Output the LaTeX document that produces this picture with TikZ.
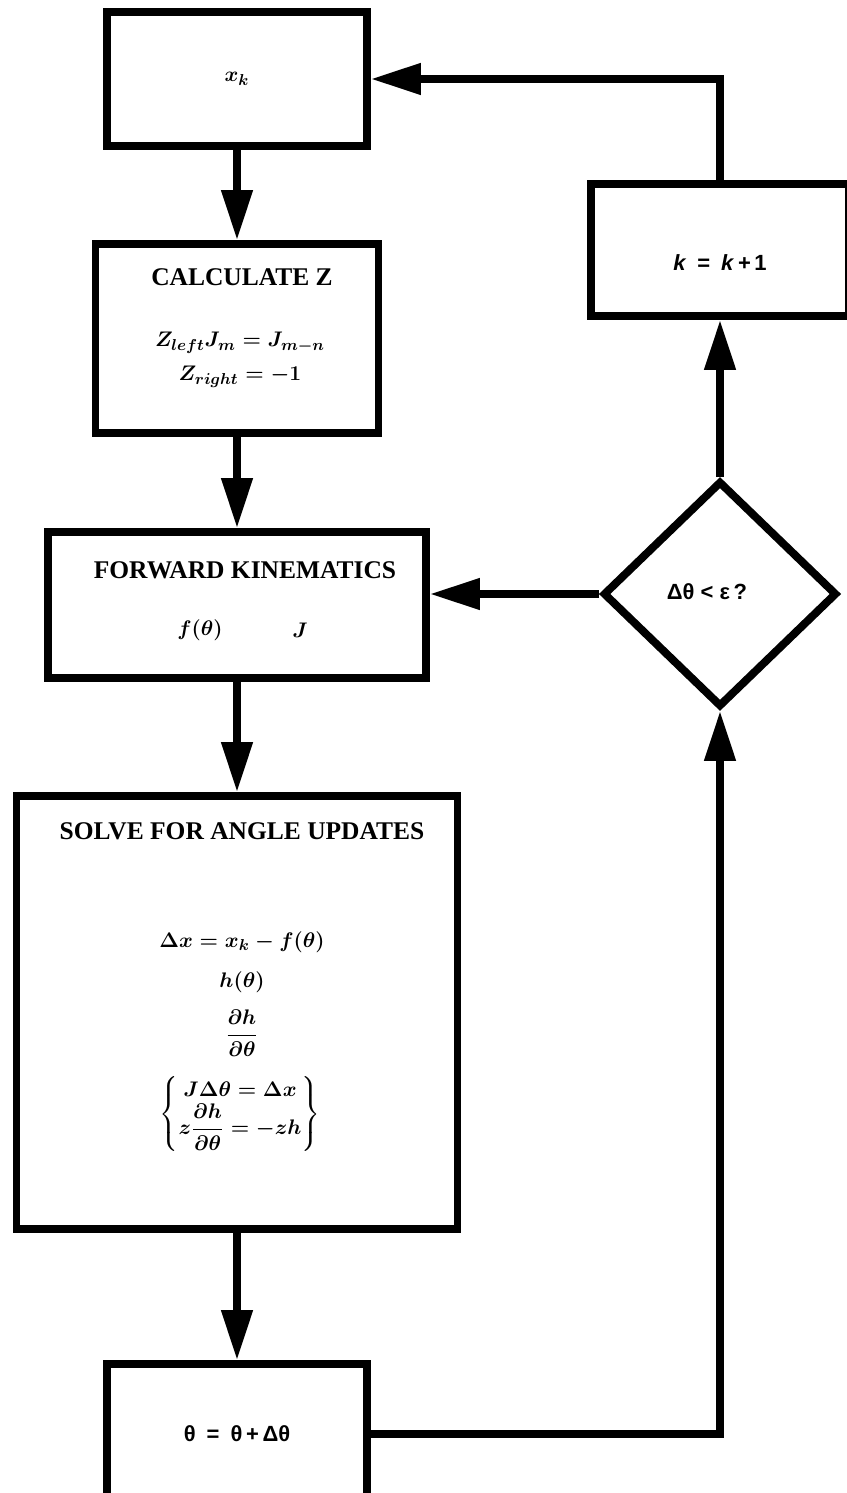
\documentclass[tikz,border=0pt]{standalone}
\usepackage{amsmath}
\usepackage{fontspec}
\setmainfont{Liberation Serif}
\setsansfont{Liberation Sans}
\usetikzlibrary{arrows.meta, shapes.geometric, positioning}

\begin{document}
\begin{tikzpicture}[
  box/.style={draw=black, line width=4.5pt, inner sep=0pt},
  decide/.style={diamond, draw=black, line width=4.5pt, inner sep=0pt, aspect=1},
  head/.style={font=\fontsize{14.5}{17}\selectfont\bfseries, inner sep=0pt},
  eqn/.style={font=\fontsize{12.5}{15}\selectfont\boldmath, inner sep=0pt},
  lbl/.style={font=\fontsize{12.5}{15}\selectfont\sffamily\bfseries, inner sep=0pt},
  arr/.style={-{Triangle[length=1cm, width=0.6cm]}, line width=4.5pt},
]
\useasboundingbox (0,0) rectangle (16.92,-29.86);

% left column
\node[box, eqn, minimum width=5.2cm, minimum height=2.68cm] (xk) at (4.74,-1.58) {$x_k$};

\node[box, minimum width=5.66cm, minimum height=3.78cm] (calcz) at (4.74,-6.77) {};
\node[head] (calczhead) at (4.84,-5.54) {CALCULATE Z};
\node[eqn] (zleft) at (4.80,-6.86) {$Z_{left}J_m = J_{m-n}$};
\node[eqn] (zright) at (4.80,-7.54) {$Z_{right} = -1$};

\node[box, minimum width=7.56cm, minimum height=2.92cm] (fwdkin) at (4.74,-12.10) {};
\node[head] (fwdhead) at (4.90,-11.40) {FORWARD KINEMATICS};
\node[eqn] (fwdf) at (4.00,-12.60) {$f(\theta)$};
\node[eqn] (fwdj) at (6.00,-12.60) {$J$};

\node[box, minimum width=8.82cm, minimum height=8.66cm] (solve) at (4.74,-20.25) {};
\node[head] (solvehead) at (4.84,-16.62) {SOLVE FOR ANGLE UPDATES};
\node[eqn] (dx) at (4.84,-18.84) {$\Delta x = x_k - f(\theta)$};
\node[eqn] (hth) at (4.84,-19.64) {$h(\theta)$};
\node[eqn] (dhdth) at (4.84,-20.66) {$\dfrac{\partial h}{\partial\theta}$};
\node[eqn] (sys) at (4.80,-22.28) {$\left\{\begin{matrix} J\Delta\theta = \Delta x\\ z\dfrac{\partial h}{\partial\theta} = -zh\end{matrix}\right\}$};

\node[box, lbl, minimum width=5.2cm, minimum height=2.8cm] (update) at (4.74,-28.68) {θ\enspace=\enspace θ\,+\,Δθ};

% right column
\node[box, minimum width=5.16cm, minimum height=2.64cm] (inc) at (14.40,-5.00) {};
\node[lbl] (inctext) at (14.40,-5.26) {\textit{k}\enspace=\enspace\textit{k}\,+\,1};

\node[decide, minimum width=4.68cm, minimum height=4.52cm] (check) at (14.40,-11.88) {};
\node[lbl] (checktext) at (14.14,-11.84) {Δθ < ε\,?};

% connectors
\draw[arr] (xk) -- (calcz);
\draw[arr] (calcz) -- (fwdkin);
\draw[arr] (fwdkin) -- (solve);
\draw[arr] (solve) -- (update);
\draw[arr] (update.east) -| (check.south);
\draw[arr] (check.north) -- (inc.south);
\draw[arr] (check.west) -- (check.west -| fwdkin.east);
\draw[arr] (inc.north) |- (xk.east);
\end{tikzpicture}
\end{document}
